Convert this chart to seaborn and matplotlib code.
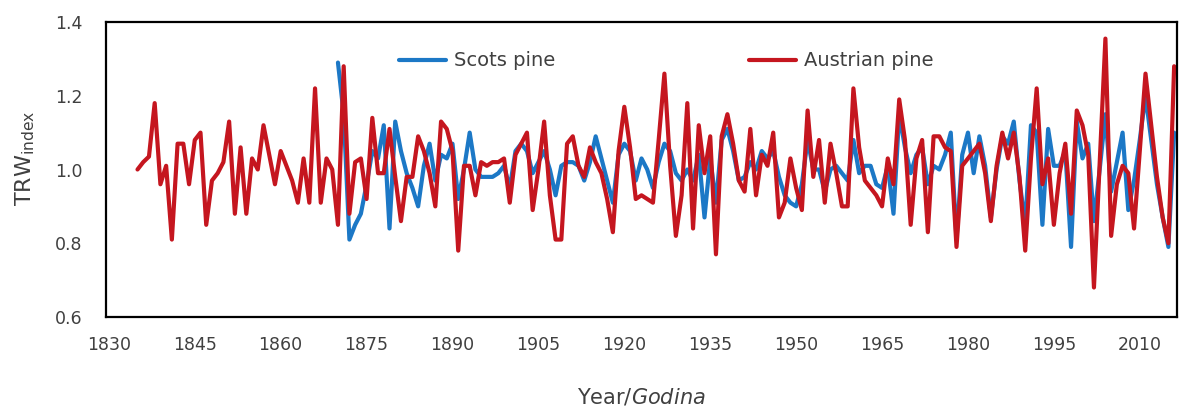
import matplotlib
matplotlib.use("Agg")
import matplotlib.pyplot as plt
import pandas as pd
import seaborn as sns

# ---------------- data ----------------
austrian_years = list(range(1835, 2017))
austrian_trw = [
    1.00, 1.02, 1.035, 1.18, 0.96,                              # 1835-1839
    1.01, 0.81, 1.07, 1.07, 0.96, 1.08, 1.10, 0.85, 0.97, 0.99,  # 1840s
    1.02, 1.13, 0.88, 1.06, 0.88, 1.03, 1.00, 1.12, 1.04, 0.96,  # 1850s
    1.05, 1.01, 0.97, 0.91, 1.03, 0.91, 1.22, 0.91, 1.03, 1.00,  # 1860s
    0.85, 1.28, 0.88, 1.02, 1.03, 0.92, 1.14, 0.99, 0.99, 1.11,  # 1870s
    0.98, 0.86, 0.98, 0.98, 1.09, 1.05, 0.99, 0.90, 1.13, 1.11,  # 1880s
    1.05, 0.78, 1.01, 1.01, 0.93, 1.02, 1.01, 1.02, 1.02, 1.03,  # 1890s
    0.91, 1.04, 1.07, 1.10, 0.89, 1.00, 1.13, 0.93, 0.81, 0.81,  # 1900s
    1.07, 1.09, 1.01, 0.98, 1.06, 1.02, 0.99, 0.92, 0.83, 1.05,  # 1910s
    1.17, 1.06, 0.92, 0.93, 0.92, 0.91, 1.08, 1.26, 1.01, 0.82,  # 1920s
    0.93, 1.18, 0.84, 1.12, 0.99, 1.09, 0.77, 1.09, 1.15, 1.07,  # 1930s
    0.97, 0.94, 1.11, 0.93, 1.04, 1.01, 1.10, 0.87, 0.91, 1.03,  # 1940s
    0.95, 0.89, 1.16, 0.98, 1.08, 0.91, 1.07, 0.99, 0.90, 0.90,  # 1950s
    1.22, 1.06, 0.97, 0.95, 0.93, 0.90, 1.03, 0.96, 1.19, 1.08,  # 1960s
    0.85, 1.03, 1.08, 0.83, 1.09, 1.09, 1.06, 1.05, 0.79, 1.01,  # 1970s
    1.03, 1.05, 1.07, 0.99, 0.86, 1.01, 1.10, 1.03, 1.10, 0.98,  # 1980s
    0.78, 1.03, 1.22, 0.96, 1.03, 0.85, 0.99, 1.07, 0.88, 1.16,  # 1990s
    1.12, 1.04, 0.68, 1.02, 1.355, 0.82, 0.96, 1.01, 0.99, 0.84, # 2000s
    1.05, 1.26, 1.12, 0.98, 0.87, 0.80, 1.28,                    # 2010-2016
]

scots_years = list(range(1870, 2017))
scots_trw = [
    1.29, 1.15, 0.81, 0.85, 0.88, 0.96, 1.05, 1.03, 1.12, 0.84,  # 1870s
    1.13, 1.05, 0.99, 0.95, 0.90, 1.01, 1.07, 0.97, 1.04, 1.03,  # 1880s
    1.07, 0.92, 1.00, 1.10, 1.00, 0.98, 0.98, 0.98, 0.99, 1.01,  # 1890s
    0.95, 1.05, 1.07, 1.05, 0.99, 1.02, 1.05, 1.00, 0.93, 1.01,  # 1900s
    1.02, 1.02, 1.01, 0.97, 1.02, 1.09, 1.03, 0.97, 0.91, 1.04,  # 1910s
    1.07, 1.05, 0.97, 1.03, 1.00, 0.95, 1.02, 1.07, 1.05, 0.99,  # 1920s
    0.97, 1.00, 0.97, 1.04, 0.87, 1.03, 0.91, 1.08, 1.11, 1.05,  # 1930s
    0.97, 0.98, 1.02, 1.00, 1.05, 1.03, 1.05, 0.98, 0.93, 0.91,  # 1940s
    0.90, 0.96, 1.08, 1.00, 1.00, 0.94, 1.00, 1.01, 0.99, 0.97,  # 1950s
    1.08, 0.99, 1.01, 1.01, 0.96, 0.95, 1.01, 0.88, 1.15, 1.06,  # 1960s
    0.99, 1.04, 1.06, 0.96, 1.01, 1.00, 1.04, 1.10, 0.81, 1.04,  # 1970s
    1.10, 0.99, 1.09, 1.01, 0.87, 1.00, 1.09, 1.07, 1.13, 0.97,  # 1980s
    0.85, 1.12, 1.10, 0.85, 1.11, 1.01, 1.01, 1.05, 0.79, 1.13,  # 1990s
    1.03, 1.07, 0.86, 1.00, 1.15, 0.94, 1.02, 1.10, 0.89, 0.97,  # 2000s
    1.08, 1.20, 1.08, 0.96, 0.87, 0.79, 1.10,                    # 2010-2016
]

series_names = ["Scots pine", "Austrian pine"]
x_tick_years = list(range(1830, 2011, 15))
y_tick_values = [0.6, 0.8, 1.0, 1.2, 1.4]

# ---------------- style ----------------
sns.set_theme(style="white")
plt.rcParams["font.family"] = ["DejaVu Sans"]
plt.rcParams["mathtext.fontset"] = "dejavusans"

BLUE = "#1C78C6"
RED = "#C5161F"
TEXT = "#404040"

W, H = 1185, 411
fig = plt.figure(figsize=(W / 100, H / 100), dpi=100)
ax = fig.add_axes([106 / W, 1 - 317 / H, 1071 / W, 295 / H])

df_s = pd.DataFrame({"Year": scots_years, "TRW": scots_trw})
df_a = pd.DataFrame({"Year": austrian_years, "TRW": austrian_trw})

sns.lineplot(data=df_s, x="Year", y="TRW", ax=ax, color=BLUE, linewidth=3.0,
             label=series_names[0], estimator=None, solid_joinstyle="round")
sns.lineplot(data=df_a, x="Year", y="TRW", ax=ax, color=RED, linewidth=3.0,
             label=series_names[1], estimator=None, solid_joinstyle="round")

ax.set_xlim(1829.5, 2016.5)
ax.set_ylim(0.6, 1.4)
ax.set_xticks(x_tick_years)
ax.set_xticklabels([str(y) for y in x_tick_years])
ax.set_yticks(y_tick_values)
ax.set_yticklabels([f"{v:.1f}" for v in y_tick_values])
ax.tick_params(axis="both", length=0, labelsize=12.5, labelcolor=TEXT)
ax.tick_params(axis="x", pad=14)
ax.tick_params(axis="y", pad=17)

for sp in ax.spines.values():
    sp.set_visible(True)
    sp.set_color("black")
    sp.set_linewidth(1.6)

ax.set_xlabel(r"Year/$\mathit{Godina}$", fontsize=15, color=TEXT, va="center")
ax.xaxis.set_label_coords(0.5, -0.271)
ax.set_ylabel(r"TRW$_{\mathregular{index}}$", fontsize=16, color=TEXT, va="center")
ax.yaxis.set_label_coords(-0.0756, 0.54)

handles, labels = ax.get_legend_handles_labels()
leg = ax.legend(handles, labels, ncol=2, frameon=False, loc="center",
                bbox_to_anchor=(0.523, 0.868), fontsize=14, handlelength=2.4,
                handletextpad=0.4, columnspacing=10.0)
for t in leg.get_texts():
    t.set_color(TEXT)

fig.savefig("out.png", dpi=100)
